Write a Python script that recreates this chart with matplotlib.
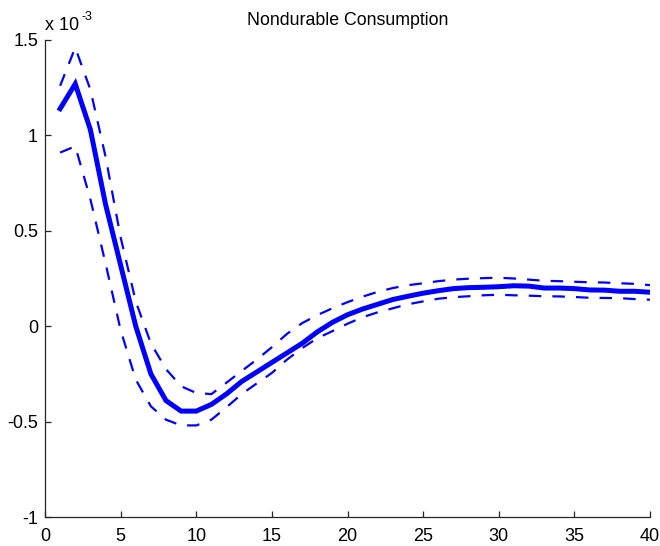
import matplotlib
matplotlib.use("Agg")
import matplotlib.pyplot as plt

plt.rcParams['font.family'] = ['Liberation Sans', 'DejaVu Sans']
plt.rcParams['lines.scale_dashes'] = False

# Impulse response horizon (quarters)
horizon = list(range(1, 41))

# Point estimate of the response (units of 1e-3)
response = [1.14, 1.27, 1.03, 0.64, 0.32, 0.00, -0.25, -0.39, -0.445, -0.445,
            -0.41, -0.355, -0.29, -0.24, -0.19, -0.14, -0.09, -0.03, 0.02, 0.06,
            0.09, 0.115, 0.14, 0.157, 0.173, 0.186, 0.197, 0.202, 0.204, 0.207,
            0.212, 0.21, 0.20, 0.20, 0.197, 0.19, 0.189, 0.183, 0.183, 0.178]

# Upper confidence band (units of 1e-3)
upper = [1.26, 1.46, 1.24, 0.89, 0.466, 0.13, -0.09, -0.225, -0.315, -0.35,
         -0.356, -0.296, -0.235, -0.175, -0.11, -0.04, 0.016, 0.058, 0.094, 0.126,
         0.155, 0.18, 0.20, 0.215, 0.225, 0.236, 0.244, 0.249, 0.252, 0.254,
         0.25, 0.244, 0.238, 0.236, 0.233, 0.23, 0.229, 0.225, 0.222, 0.215]

# Lower confidence band (units of 1e-3)
lower = [0.91, 0.943, 0.666, 0.33, -0.02, -0.28, -0.42, -0.49, -0.52, -0.52,
         -0.49, -0.425, -0.356, -0.30, -0.245, -0.175, -0.115, -0.063, -0.026, 0.013,
         0.047, 0.073, 0.094, 0.115, 0.13, 0.144, 0.152, 0.157, 0.162, 0.165,
         0.162, 0.16, 0.157, 0.156, 0.153, 0.149, 0.148, 0.147, 0.142, 0.139]

xticks = [0, 5, 10, 15, 20, 25, 30, 35, 40]
yticks = [-1, -0.5, 0, 0.5, 1, 1.5]
ytick_labels = ['-1', '-0.5', '0', '0.5', '1', '1.5']

W, H = 660, 546
fig = plt.figure(figsize=(W / 100, H / 100), dpi=100)
ax = fig.add_axes([45 / W, 1 - 517 / H, 605 / W, 477 / H])

blue = '#0000ff'
ax.plot(horizon, upper, color=blue, lw=1.6, dashes=(9, 8), dash_capstyle='butt')
ax.plot(horizon, lower, color=blue, lw=1.6, dashes=(9, 8), dash_capstyle='butt')
ax.plot(horizon, response, color=blue, lw=3.6, solid_joinstyle='miter')

ax.set_xlim(0, 40)
ax.set_ylim(-1, 1.5)
ax.set_xticks(xticks)
ax.set_yticks(yticks)
ax.set_yticklabels(ytick_labels)

for side in ('top', 'right'):
    ax.spines[side].set_visible(False)
for side in ('left', 'bottom'):
    ax.spines[side].set_color('#262626')
    ax.spines[side].set_linewidth(0.9)

ax.tick_params(direction='in', length=4.5, width=0.9, color='#262626',
               labelsize=13)
ax.tick_params(axis='x', pad=8)
ax.tick_params(axis='y', pad=5)

# Title and exponent marker placed in figure pixels
fig.text(347.5 / W, 1 - 25 / H, 'Nondurable Consumption', fontsize=12.8,
         ha='center', va='baseline')
fig.text(45 / W, 1 - 30 / H, 'x 10', fontsize=13, ha='left', va='baseline')
fig.text(81 / W, 1 - 20 / H, '-3', fontsize=9, ha='left', va='baseline')

fig.savefig('out.png', dpi=100)
